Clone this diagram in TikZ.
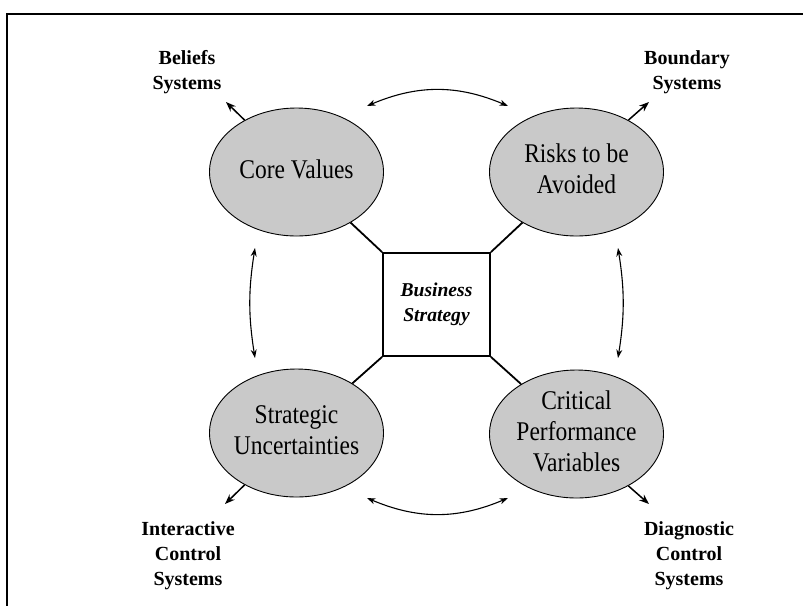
\documentclass[tikz,border=0pt]{standalone}
\usepackage{fontspec}
\usepackage{graphicx}
\setmainfont{Liberation Serif}
\usetikzlibrary{shapes.geometric,arrows.meta}
% lever names are set in a slightly tall, narrow face
\newcommand{\levertext}[1]{\scalebox{1}[1.15]{\fontsize{23.5}{27}\selectfont
  \begin{tabular}{@{}c@{}}#1\end{tabular}}}
\begin{document}
\begin{tikzpicture}[x=1pt,y=-1pt,
  lever/.style={ellipse,draw=black,line width=0.9pt,fill=black!21,
    minimum width=174pt,minimum height=128pt,inner sep=0pt},
  levername/.style={inner sep=0pt},
  core/.style={draw,line width=1.8pt,minimum width=107pt,minimum height=103pt,
    inner sep=0pt,align=center,font=\fontsize{19.6}{25}\selectfont\bfseries\itshape},
  sysname/.style={align=center,font=\fontsize{20}{25}\selectfont\bfseries},
  spoke/.style={line width=1.8pt},
  outarrow/.style={line width=1.5pt,-{Stealth[length=10pt,width=7.5pt]}},
  linkarrow/.style={line width=1.1pt,
    {Stealth[length=8.5pt,width=6pt]}-{Stealth[length=8.5pt,width=6pt]}}
]
\useasboundingbox (0,0) rectangle (803,606);
% outer frame
\draw[line width=2.2pt] (803,14) -- (7,14) -- (7,606);

% centre box and the four levers
\node[core] (bs) at (436.5,304.5) {Business\\Strategy};
\node[lever,label={[levername]center:\levertext{Core Values}}]
  (cv) at (296.5,172) {};
\node[lever,label={[levername]center:\levertext{Risks to be\\Avoided}}]
  (ra) at (576.5,172) {};
\node[lever,label={[levername]center:\levertext{Strategic\\Uncertainties}}]
  (su) at (296.5,433) {};
\node[lever,label={[levername]center:\levertext{Critical\\Performance\\Variables}}]
  (cp) at (576.5,434) {};

% spokes from the box corners
\draw[spoke] (bs.north west) -- (cv);
\draw[spoke] (bs.north east) -- (ra);
\draw[spoke] (bs.south west) -- (su);
\draw[spoke] (bs.south east) -- (cp);

% control system labels
\node[sysname] (beliefs) at (187,72) {Beliefs\\Systems};
\node[sysname] (boundary) at (687,72) {Boundary\\Systems};
\node[sysname] (interactive) at (188,556) {Interactive\\Control\\Systems};
\node[sysname] (diagnostic) at (689,556) {Diagnostic\\Control\\Systems};

% arrows out to the control systems
\coordinate (tipbel) at (226,102);
\coordinate (tipbnd) at (649,102);
\coordinate (tipint) at (225,504);
\coordinate (tipdia) at (649,504);
\draw[outarrow] (cv.135) -- (tipbel);
\draw[outarrow] (ra.45) -- (tipbnd);
\draw[outarrow] (su.225) -- (tipint);
\draw[outarrow] (cp.-45) -- (tipdia);

% two-way links between neighbouring levers
\coordinate (tl) at (367,106);
\coordinate (tr) at (508,106);
\coordinate (bl) at (367,498);
\coordinate (br) at (508,498);
\coordinate (lt) at (255,248);
\coordinate (lb) at (255,358);
\coordinate (rt) at (618,248);
\coordinate (rb) at (618,358);
\draw[linkarrow] (tl) to[bend left=23] (tr);
\draw[linkarrow] (bl) to[bend right=23] (br);
\draw[linkarrow] (lt) to[bend right=9] (lb);
\draw[linkarrow] (rt) to[bend left=9] (rb);
\end{tikzpicture}
\end{document}
